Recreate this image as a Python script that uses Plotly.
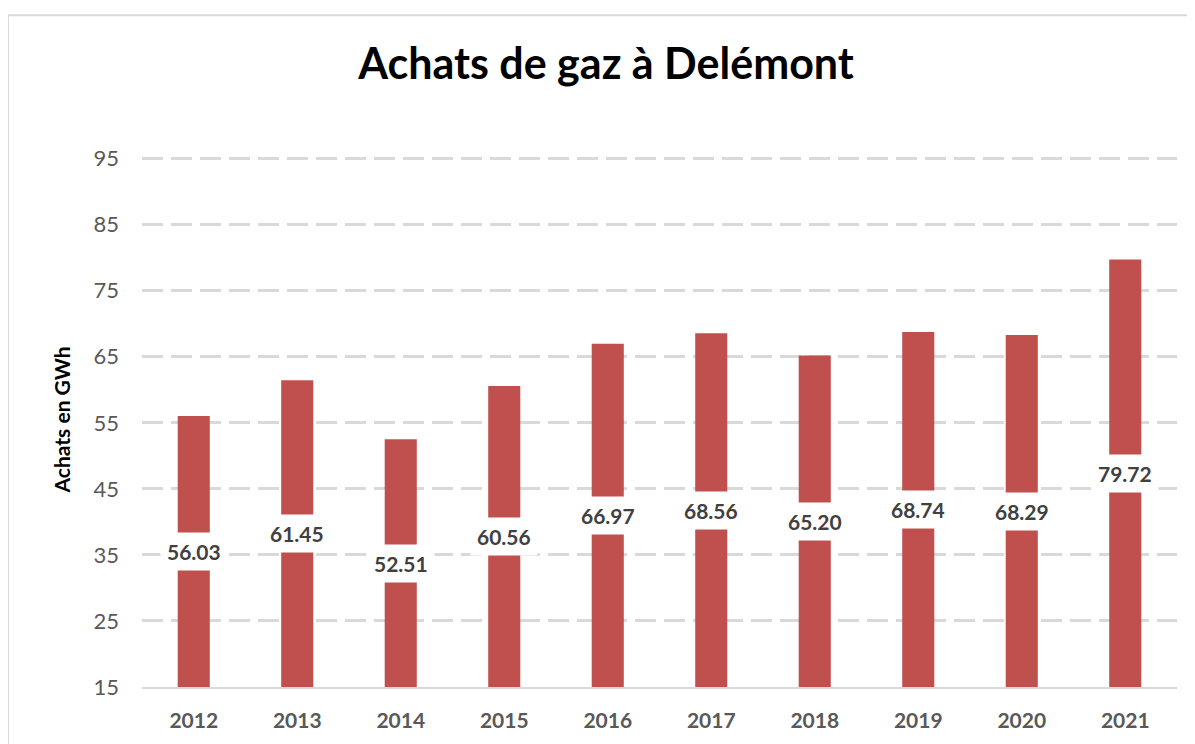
import plotly.graph_objects as go

years = ["2012", "2013", "2014", "2015", "2016", "2017", "2018", "2019", "2020", "2021"]
achats = [56.03, 61.45, 52.51, 60.56, 66.97, 68.56, 65.20, 68.74, 68.29, 79.72]
y_ticks = [15, 25, 35, 45, 55, 65, 75, 85, 95]

y_min, y_max = 15, 96
FONT = "Lato"

fig = go.Figure()
fig.add_trace(go.Bar(
    x=years, y=achats,
    marker=dict(color="#C0504D", line=dict(width=0)),
    hoverinfo="skip",
))

# value labels centred on the visible part of each bar, on a white box
for i, v in enumerate(achats):
    fig.add_annotation(
        x=i, y=(y_min + v) / 2, xref="x", yref="y",
        text=f"{v:.2f}", showarrow=False,
        font=dict(family=FONT, size=21, color="#404040", weight="bold"),
        bgcolor="white", borderpad=6,
    )

# figure is placed 8px inside the page (body margin)
W, H = 1187, 736
L, R, T, B = 134, 18, 144, 52
pw, ph = W - L - R, H - T - B
# outer chart frame
fig.add_shape(
    type="rect", xref="paper", yref="paper",
    x0=(0 - L) / pw, x1=(W + 20 - L) / pw,
    y0=-(H + 20 - (H - B)) / ph, y1=((H - B) - 6) / ph,
    line=dict(color="#D9D9D9", width=2), fillcolor="rgba(0,0,0,0)", layer="below",
)

fig.update_layout(
    width=W, height=H,
    margin=dict(l=L, r=R, t=T, b=B),
    paper_bgcolor="white", plot_bgcolor="white",
    showlegend=False,
    bargap=0.69,
    title=dict(
        text="<b>Achats de gaz à Delémont</b>",
        font=dict(family=FONT, size=43, color="black"),
        x=598 / W, xanchor="center", xref="container",
        y=1 - 56 / H, yanchor="middle", yref="container",
    ),
    xaxis=dict(
        type="category", range=[-0.5, len(years) - 0.5],
        showgrid=False, showline=True, linecolor="#D9D9D9", linewidth=2,
        ticks="", tickfont=dict(family=FONT, size=21, color="#595959", weight="bold"),
        ticklabelstandoff=14,
    ),
    yaxis=dict(
        range=[y_min, y_max], tickvals=y_ticks,
        showgrid=True, gridcolor="#D9D9D9", gridwidth=2.5, griddash="21px,8px",
        zeroline=False, showline=False, ticks="",
        tickfont=dict(family=FONT, size=22, color="#595959"),
        ticklabelstandoff=22,
        title=dict(text="<b>Achats en GWh</b>",
                   font=dict(family=FONT, size=21, color="black"), standoff=17),
    ),
)

fig.write_html("out.html")
